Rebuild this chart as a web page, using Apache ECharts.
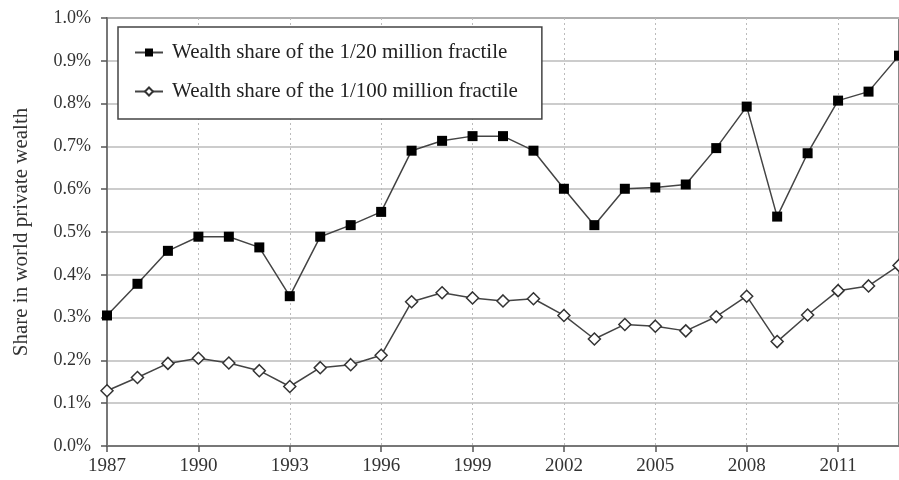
<!DOCTYPE html>
<html>
<head>
<meta charset="utf-8">
<script src="https://cdn.jsdelivr.net/npm/echarts@6/dist/echarts.min.js"></script>
<style>
html,body{margin:0;padding:0;background:#fff;}
#chart{width:899px;height:480px;}
</style>
</head>
<body>
<div id="chart"></div>
<script>
var years = ['1987','1988','1989','1990','1991','1992','1993','1994','1995','1996','1997','1998','1999','2000','2001','2002','2003','2004','2005','2006','2007','2008','2009','2010','2011','2012','2013'];
var share20m = [0.305,0.379,0.456,0.489,0.489,0.464,0.350,0.489,0.516,0.547,0.690,0.713,0.724,0.724,0.690,0.601,0.516,0.601,0.604,0.611,0.696,0.793,0.536,0.684,0.807,0.828,0.912];
var share100m = [0.129,0.160,0.193,0.205,0.194,0.176,0.139,0.183,0.190,0.212,0.337,0.358,0.346,0.339,0.344,0.305,0.250,0.284,0.280,0.269,0.302,0.350,0.244,0.306,0.363,0.374,0.422];
var seriesNames = ['Wealth share of the 1/20 million fractile','Wealth share of the 1/100 million fractile'];
var yAxisTitle = 'Share in world private wealth';

var FONT = 'Liberation Serif';
var chart = echarts.init(document.getElementById('chart'), null, {renderer:'canvas'});
chart.setOption({
  backgroundColor:'#ffffff',
  animation:false,
  textStyle:{fontFamily:FONT},
  grid:{left:107,right:-4,top:18,bottom:34,show:true,borderColor:'#888',borderWidth:2,backgroundColor:'transparent'},
  legend:{
    orient:'vertical',left:118,top:27,
    padding:[15,24,17,16],itemGap:18,
    itemWidth:28,itemHeight:10,
    backgroundColor:'#fff',borderColor:'#444',borderWidth:1.5,
    textStyle:{fontFamily:FONT,fontSize:21,color:'#222',padding:[0,0,0,4]},
    data:seriesNames
  },
  xAxis:{
    type:'category',data:years,boundaryGap:false,
    axisLine:{lineStyle:{color:'#777',width:2}},
    axisTick:{show:true,interval:2,length:6,lineStyle:{color:'#555',width:1.5}},
    axisLabel:{interval:2,fontSize:19,color:'#333',margin:11,fontFamily:FONT},
    splitLine:{show:true,interval:2,lineStyle:{color:'#bbb',type:[2,3],width:1}}
  },
  yAxis:{
    type:'value',min:0,max:1,interval:0.1,
    name:yAxisTitle,nameLocation:'middle',nameGap:75,
    nameTextStyle:{fontSize:21,color:'#333',fontFamily:FONT},
    axisLine:{show:true,lineStyle:{color:'#777',width:2}},
    axisTick:{show:true,length:6,lineStyle:{color:'#555',width:1.5}},
    axisLabel:{fontSize:18,color:'#333',margin:16,fontFamily:FONT,formatter:function(v){return v.toFixed(1)+'%';}},
    splitLine:{show:true,lineStyle:{color:'#bbb',width:1.5}}
  },
  series:[
    {name:seriesNames[0],type:'line',data:share20m,symbol:'rect',symbolSize:10,
     lineStyle:{color:'#444',width:1.5},itemStyle:{color:'#000',borderColor:'#000',borderWidth:0},z:3},
    {name:seriesNames[1],type:'line',data:share100m,symbol:'diamond',symbolSize:12,showAllSymbol:true,
     lineStyle:{color:'#444',width:1.5},itemStyle:{color:'#fff',borderColor:'#333',borderWidth:1.5},z:3}
  ]
});
</script>
</body>
</html>
